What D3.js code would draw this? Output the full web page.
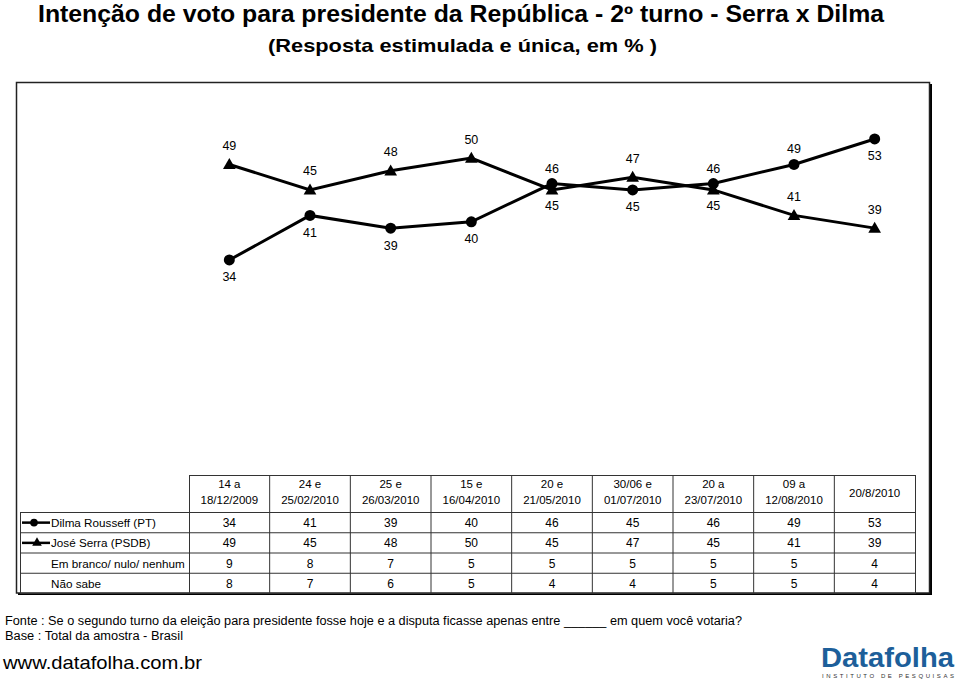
<!DOCTYPE html>
<html><head><meta charset="utf-8">
<script src="https://cdn.jsdelivr.net/npm/d3@7"></script>
<style>body{margin:0;background:#fff}svg{display:block}text{font-family:"Liberation Sans",Arial,sans-serif}</style>
</head><body>
<svg id="c" width="960" height="681"></svg>
<script>
const periodLine1 = ["14 a","24 e","25 e","15 e","20 e","30/06 e","20 a","09 a","20/8/2010"];
const periodLine2 = ["18/12/2009","25/02/2010","26/03/2010","16/04/2010","21/05/2010","01/07/2010","23/07/2010","12/08/2010",""];
const dilma = [34,41,39,40,46,45,46,49,53];
const serra = [49,45,48,50,45,47,45,41,39];
const branco = [9,8,7,5,5,5,5,5,4];
const naoSabe = [8,7,6,5,4,4,5,5,4];
const dilmaLabelPos = ["b","b","b","b","a","b","a","a","b"];
const serraLabelPos = ["a","a","a","a","b","a","b","a","a"];
const rowNames = ["Dilma Rousseff (PT)","José Serra (PSDB)","Em branco/ nulo/ nenhum","Não sabe"];

const svg = d3.select("#c");
const idx = d3.range(dilma.length);
const x = d3.scaleBand().domain(idx).range([189, 915]);
const cx = i => x(i) + x.bandwidth()/2;
const y = d3.scaleLinear().domain([0, 60]).range([476.5, 94.4]);

// Title
svg.append("text").attr("x",38).attr("y",22).attr("font-size",23).attr("font-weight","bold")
  .attr("textLength",846).attr("lengthAdjust","spacingAndGlyphs")
  .text("Intenção de voto para presidente da República - 2º turno - Serra x Dilma");
svg.append("text").attr("x",268).attr("y",52).attr("font-size",19).attr("font-weight","bold")
  .attr("textLength",389).attr("lengthAdjust","spacingAndGlyphs")
  .text("(Resposta estimulada e única, em % )");

// Frame with shadow
svg.append("rect").attr("x",18).attr("y",84).attr("width",914).attr("height",511).attr("fill","#000");
svg.append("rect").attr("x",16.5).attr("y",82.5).attr("width",913).attr("height",510.5)
  .attr("fill","#fff").attr("stroke","#222").attr("stroke-width",1.5);

// Lines
const line = d3.line().x((d,i)=>cx(i)).y(d=>y(d));
svg.append("path").datum(dilma).attr("d",line).attr("fill","none").attr("stroke","#000").attr("stroke-width",3);
svg.append("path").datum(serra).attr("d",line).attr("fill","none").attr("stroke","#000").attr("stroke-width",3);

const tri = d3.symbol().type(d3.symbolTriangle).size(70);
svg.selectAll(".dm").data(dilma).join("circle").attr("cx",(d,i)=>cx(i)).attr("cy",d=>y(d)).attr("r",5.5).attr("fill","#000");
svg.selectAll(".sm").data(serra).join("path").attr("d",tri)
  .attr("transform",(d,i)=>`translate(${cx(i)},${y(d)+1})`).attr("fill","#000");

svg.selectAll(".dl").data(dilma).join("text").attr("text-anchor","middle").attr("font-size",12.5)
  .attr("x",(d,i)=>cx(i)).attr("y",(d,i)=>y(d) + (dilmaLabelPos[i]==="a" ? -11 : 21.5)).text(d=>d);
svg.selectAll(".sl").data(serra).join("text").attr("text-anchor","middle").attr("font-size",12.5)
  .attr("x",(d,i)=>cx(i)).attr("y",(d,i)=>y(d) + (serraLabelPos[i]==="a" ? -14.5 : 20.5)).text(d=>d);

// Table
const rowTop = 512, rowH = 20.25, headTop = 475;
const g = svg.append("g").attr("stroke","#333").attr("stroke-width",1);
g.append("rect").attr("x",189.5).attr("y",headTop+0.5).attr("width",915-189).attr("height",rowTop-headTop).attr("fill","none");
g.append("rect").attr("x",20.5).attr("y",rowTop+0.5).attr("width",915-20).attr("height",rowH*4).attr("fill","none");
idx.forEach(i=>{ if(i>0) g.append("line").attr("x1",x(i)).attr("x2",x(i)).attr("y1",headTop).attr("y2",rowTop+rowH*4); });
g.append("line").attr("x1",189.5).attr("x2",189.5).attr("y1",rowTop).attr("y2",rowTop+rowH*4);
for(let r=1;r<4;r++) g.append("line").attr("x1",20).attr("x2",915).attr("y1",rowTop+rowH*r+0.5).attr("y2",rowTop+rowH*r+0.5);

idx.forEach(i=>{
  if(periodLine2[i]){
    svg.append("text").attr("x",cx(i)).attr("y",488).attr("text-anchor","middle").attr("font-size",11.5).text(periodLine1[i]);
    svg.append("text").attr("x",cx(i)).attr("y",504).attr("text-anchor","middle").attr("font-size",11.5).text(periodLine2[i]);
  } else {
    svg.append("text").attr("x",cx(i)).attr("y",497).attr("text-anchor","middle").attr("font-size",11.5).text(periodLine1[i]);
  }
});
const rows = [dilma, serra, branco, naoSabe];
rows.forEach((vals,r)=>{
  const by = rowTop + rowH*r + 15;
  svg.append("text").attr("x",51).attr("y",by).attr("font-size",11.7).text(rowNames[r]);
  vals.forEach((v,i)=> svg.append("text").attr("x",cx(i)).attr("y",by).attr("text-anchor","middle").attr("font-size",12).text(v));
});
// legend keys
const ly1 = rowTop + rowH*0.5 + 0.5, ly2 = rowTop + rowH*1.5 + 0.5;
svg.append("line").attr("x1",22).attr("x2",50).attr("y1",ly1).attr("y2",ly1).attr("stroke","#000").attr("stroke-width",2.5);
svg.append("circle").attr("cx",34).attr("cy",ly1).attr("r",3.8).attr("fill","#000");
svg.append("line").attr("x1",22).attr("x2",50).attr("y1",ly2).attr("y2",ly2).attr("stroke","#000").attr("stroke-width",2.5);
svg.append("path").attr("d",d3.symbol().type(d3.symbolTriangle).size(40)).attr("transform",`translate(37,${ly2})`).attr("fill","#000");

// Footer
svg.append("text").attr("x",5).attr("y",625).attr("font-size",12.5).attr("textLength",737).attr("lengthAdjust","spacingAndGlyphs")
  .text("Fonte : Se o segundo turno da eleição para presidente fosse hoje e a disputa ficasse apenas entre ______ em quem você votaria?");
svg.append("text").attr("x",5).attr("y",640).attr("font-size",12.5).attr("textLength",178).attr("lengthAdjust","spacingAndGlyphs")
  .text("Base : Total da amostra - Brasil");
svg.append("text").attr("x",3).attr("y",669).attr("font-size",19).attr("textLength",199).attr("lengthAdjust","spacingAndGlyphs")
  .text("www.datafolha.com.br");
svg.append("text").attr("x",821).attr("y",667).attr("font-size",28).attr("font-weight","bold").attr("fill","#1d5f9a")
  .attr("textLength",133).attr("lengthAdjust","spacingAndGlyphs").text("Datafolha");
svg.append("text").attr("x",822).attr("y",678).attr("font-size",6).attr("fill","#333")
  .attr("textLength",132).attr("lengthAdjust","spacing").text("INSTITUTO DE PESQUISAS");
</script>
</body></html>
